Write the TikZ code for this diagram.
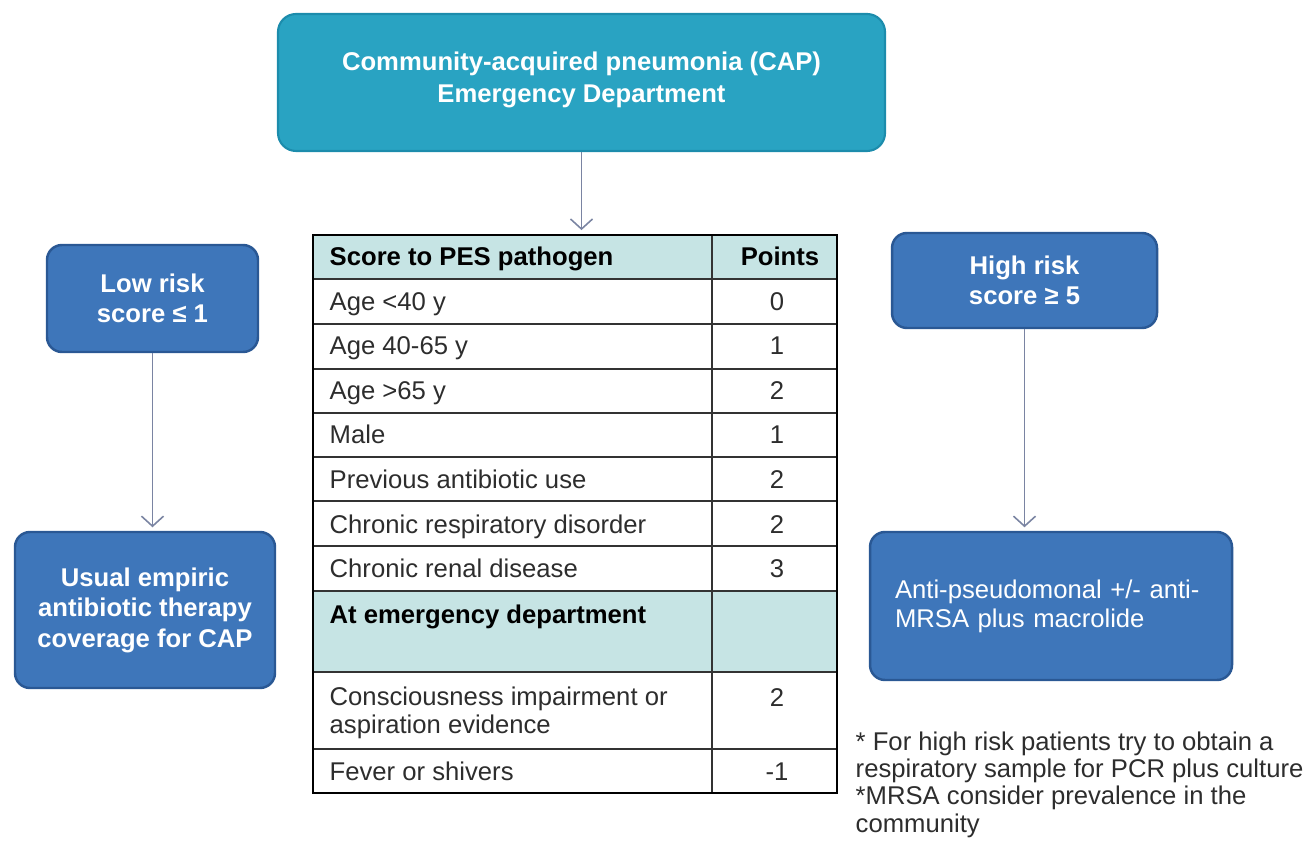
\documentclass[tikz,border=0pt]{standalone}
\usepackage{fontspec}
\setmainfont{Liberation Sans}
\usetikzlibrary{arrows.meta}
\definecolor{capteal}{RGB}{41,163,194}
\definecolor{capteald}{RGB}{28,140,172}
\definecolor{riskblue}{RGB}{62,118,186}
\definecolor{riskblued}{RGB}{42,88,148}
\definecolor{headfill}{RGB}{198,228,228}
\definecolor{linkgray}{RGB}{122,132,162}
\definecolor{txtgray}{RGB}{45,45,45}

\begin{document}
\begin{tikzpicture}[every node/.style={font=\fontsize{7.3}{9}\selectfont}, >={Straight Barb[length=1mm,width=2.2mm]},
	tealbox/.style={draw=capteald, fill=capteal, rounded corners=0.18cm, text=white, align=center, font=\fontsize{7.3}{9.1}\selectfont\bfseries, line width=0.6pt},
	bluebox/.style={draw=riskblued, fill=riskblue, rounded corners=0.15cm, text=white, align=center, font=\fontsize{7.3}{8.7}\selectfont\bfseries, line width=0.7pt},
	link/.style={->, linkgray, line width=0.45pt, shorten >=1pt},
	tabrule/.style={black!80, line width=0.6pt},
	celltxt/.style={anchor=base west, text=txtgray, inner sep=0pt, align=left, font=\fontsize{7.3}{7.7}\selectfont},
	headtxt/.style={anchor=base west, inner sep=0pt, font=\fontsize{7.3}{9}\selectfont\bfseries},
	pts/.style={anchor=base, text=txtgray, inner sep=0pt}]
	\useasboundingbox (0,0) rectangle (13.06,-8.41);
	\node[tealbox, minimum width=6.07cm, minimum height=1.37cm] (cap) at (5.815,-0.825) {Community-acquired pneumonia (CAP)\\Emergency Department\\[-0.21cm]};
	\node[bluebox, minimum width=2.11cm, minimum height=1.07cm] (low) at (1.525,-2.985) {Low risk\\score ≤ 1};
	\node[bluebox, minimum width=2.6cm, minimum height=1.56cm] (usual) at (1.45,-6.10) {Usual empiric\\antibiotic therapy\\coverage for CAP};
	\node[bluebox, minimum width=2.65cm, minimum height=0.95cm] (high) at (10.245,-2.805) {High risk\\score ≥ 5};
	\node[bluebox, font=\fontsize{7.3}{8.3}\selectfont, align=left, text width=3.12cm, inner xsep=0.25cm, minimum height=1.48cm] (anti) at (10.51,-6.06) {Anti-pseudomonal +/- anti-\\MRSA plus macrolide};
	% score table
	\fill[headfill] (3.13,-2.35) rectangle (8.37,-2.79);
	\fill[headfill] (3.13,-5.91) rectangle (8.37,-6.72);
	\foreach \y in {2.79,3.24,3.69,4.13,4.57,5.01,5.46,5.91,6.72,7.49} {\draw[tabrule] (3.13,-\y) -- (8.37,-\y);}
	\draw[tabrule] (7.12,-2.35) -- (7.12,-7.93);
	\node[draw=black, line width=0.8pt, minimum width=5.24cm, minimum height=5.58cm, inner sep=0pt] (pes) at (5.75,-5.14) {};
	\node[headtxt] (head) at (3.29,-2.66) {Score to PES pathogen};
	\node[headtxt, anchor=base] (points) at (7.80,-2.66) {Points};
	\foreach \txt/\val [count=\i] in {Age <40 y/0, Age 40-65 y/1, Age >65 y/2, Male/1, Previous antibiotic use/2, Chronic respiratory disorder/2, Chronic renal disease/3} {
		\node[celltxt] (row\i) at (3.29,{-3.105-0.445*(\i-1)}) {\txt};
		\node[pts] (pt\i) at (7.77,{-3.105-0.445*(\i-1)}) {\val};
	}
	\node[headtxt] (edhead) at (3.29,-6.23) {At emergency department};
	\node[celltxt] (row8) at (3.29,-7.33) {Consciousness impairment or\\aspiration evidence};
	\node[pts] (pt8) at (7.77,-7.06) {2};
	\node[celltxt] (row9) at (3.29,-7.80) {Fever or shivers};
	\node[pts] (pt9) at (7.77,-7.80) {-1};
	\node[celltxt] (note) at (8.55,-8.32) {* For high risk patients try to obtain a\\respiratory sample for PCR plus culture\\*MRSA consider prevalence in the\\community};
	% connectors
	\draw[link] (cap.south) -- (cap.south |- pes.north);
	\draw[link] (low.south) -- (low.south |- usual.north);
	\draw[link] (high.south) -- (high.south |- anti.north);
\end{tikzpicture}
\end{document}
